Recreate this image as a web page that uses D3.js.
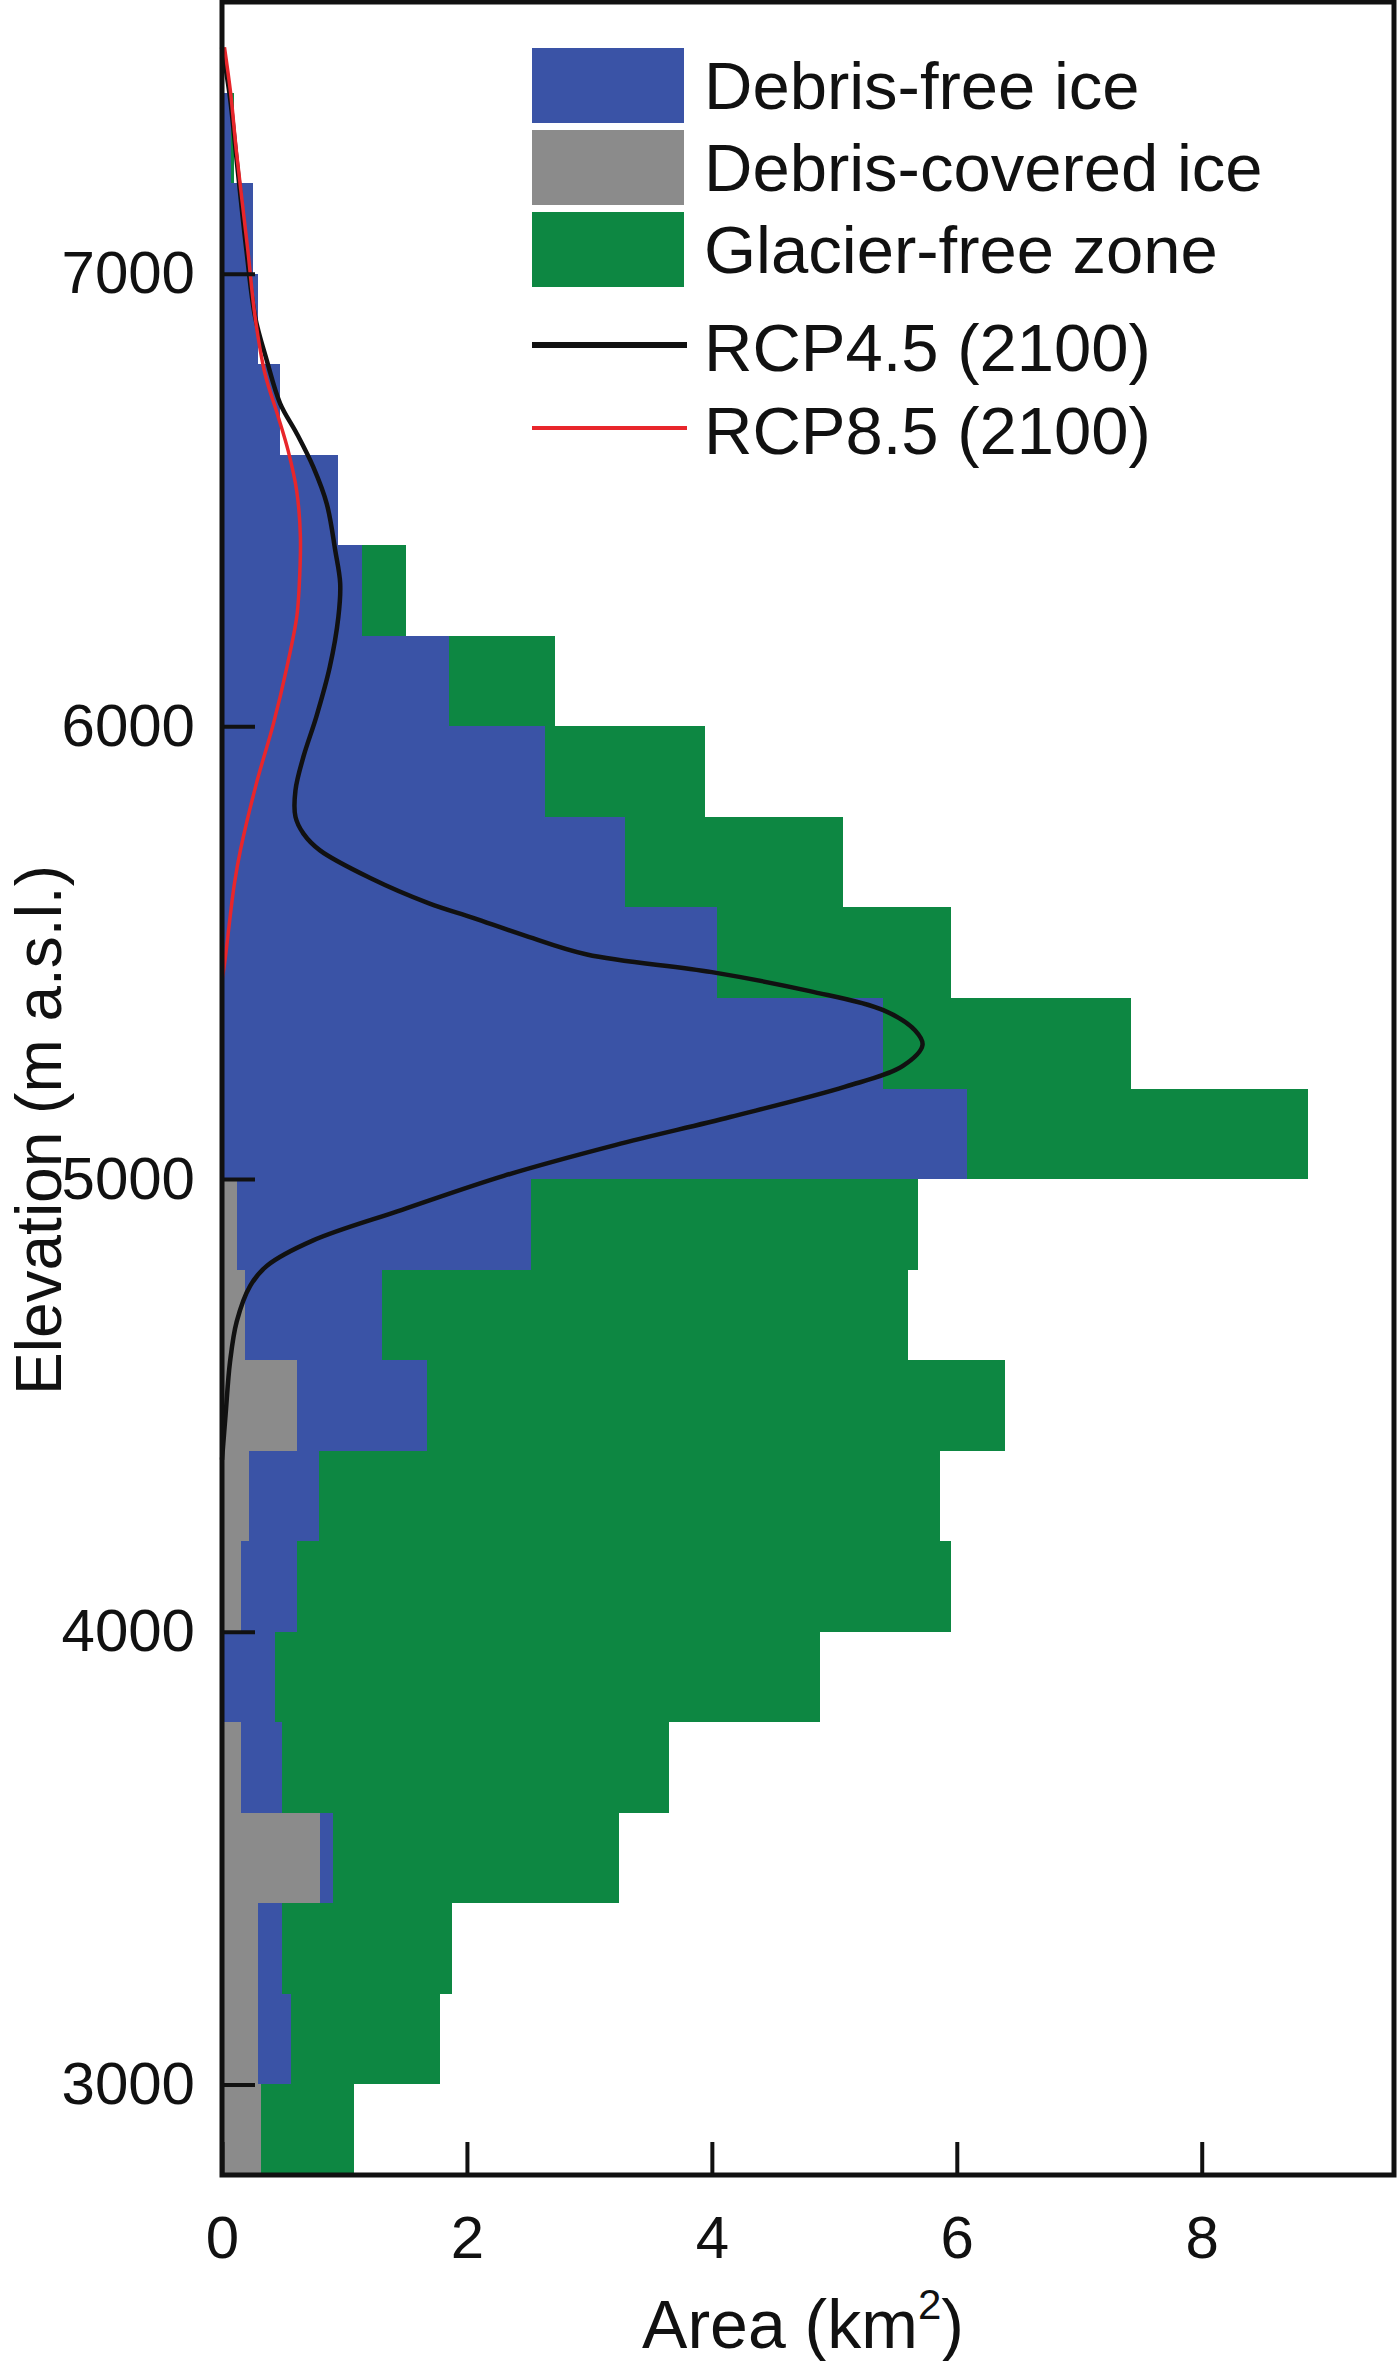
<!DOCTYPE html>
<html>
<head>
<meta charset="utf-8">
<script src="https://cdn.jsdelivr.net/npm/d3@7"></script>
<style>
  body { margin: 0; background: #fff; }
  text { font-family: "Liberation Sans", Arial, sans-serif; fill: #111; }
</style>
</head>
<body>
<div id="chart"></div>
<script>
// Elevation bins (lower edge, m a.s.l.), 200 m wide
let binStart = [2800, 3000, 3200, 3400, 3600, 3800, 4000, 4200, 4400, 4600, 4800, 5000,
                5200, 5400, 5600, 5800, 6000, 6200, 6400, 6600, 6800, 7000, 7200]
let binSize = 200

// Area per bin (km2), stacked left to right: debris-covered, debris-free, glacier-free
let debrisCovered = [0.32, 0.29, 0.29, 0.80, 0.155, 0.02, 0.155, 0.22, 0.61, 0.185, 0.12, 0,
                     0, 0, 0, 0, 0, 0, 0, 0, 0, 0, 0]
let debrisFree = [0, 0.27, 0.20, 0.11, 0.335, 0.41, 0.455, 0.57, 1.06, 1.125, 2.40, 6.08,
                  5.40, 4.04, 3.29, 2.64, 1.85, 1.14, 0.95, 0.475, 0.295, 0.25, 0.07]
let glacierFree = [0.76, 1.22, 1.39, 2.33, 3.16, 4.45, 5.34, 5.07, 4.72, 4.29, 3.16, 2.79,
                   2.02, 1.91, 1.78, 1.30, 0.87, 0.36, 0, 0, 0, 0, 0.03]

// Projected glacier area 2100
let rcp45Elev = [7500, 7400, 7250, 7050, 6905, 6809, 6713, 6647, 6573, 6491, 6388, 6316, 6241,
                 6131, 6021, 5933, 5859, 5800, 5763, 5726, 5665, 5609, 5577, 5540, 5496, 5457,
                 5415, 5373, 5328, 5296, 5250, 5204, 5137, 5075, 5007, 4932, 4864, 4809, 4764,
                 4685, 4595, 4482, 4380]
let rcp45Area = [0, 0.06, 0.12, 0.20, 0.27, 0.365, 0.475, 0.61, 0.745, 0.856, 0.925, 0.965, 0.95,
                 0.88, 0.77, 0.665, 0.60, 0.60, 0.665, 0.80, 1.21, 1.69, 2.05, 2.45, 2.98, 4.0,
                 4.8, 5.40, 5.66, 5.72, 5.56, 5.09, 4.15, 3.21, 2.30, 1.47, 0.74, 0.37, 0.23,
                 0.12, 0.065, 0.03, 0]
let rcp85Elev = [7500, 7400, 7264, 7054, 6905, 6780, 6683, 6609, 6520, 6420, 6308, 6241, 6131,
                 6006, 5873, 5726, 5650, 5576, 5474, 5440]
let rcp85Area = [0.02, 0.07, 0.12, 0.21, 0.27, 0.35, 0.46, 0.54, 0.61, 0.64, 0.63, 0.61, 0.53,
                 0.42, 0.28, 0.15, 0.10, 0.065, 0.02, 0]

let xTicks = [0, 2, 4, 6, 8]
let yTicks = [3000, 4000, 5000, 6000, 7000]
let areaLabels = ['Debris-free ice', 'Debris-covered ice', 'Glacier-free zone']
let lineLabels = ['RCP4.5 (2100)', 'RCP8.5 (2100)']

// Set bounds
let svgWidth = 1400, svgHeight = 2361
let plot = { left: 222, right: 1394, top: 2, bottom: 2175 }

let colors = { debrisCovered: '#8b8b8b', debrisFree: '#3a53a6', glacierFree: '#0d8742' }
let lineColors = ['#111111', '#e8262b']

let svg = d3.select('#chart')
    .append('svg')
    .attr('width', svgWidth)
    .attr('height', svgHeight)
    .style('background', '#fff')

let x = d3.scaleLinear()
    .domain([0, 9.57])
    .range([plot.left, plot.right])

let y = d3.scaleLinear()
    .domain([2800, 7600])
    .range([plot.bottom, plot.top])

// Stacked bars
let rows = binStart.map((b, i) => ({
    elev: b,
    debrisCovered: debrisCovered[i],
    debrisFree: debrisFree[i],
    glacierFree: glacierFree[i]
}))
let stack = d3.stack().keys(['debrisCovered', 'debrisFree', 'glacierFree'])(rows)

svg.append('g')
    .selectAll('g')
    .data(stack)
    .join('g')
    .attr('fill', s => colors[s.key])
    .selectAll('rect')
    .data(s => s)
    .join('rect')
    .attr('x', d => x(d[0]))
    .attr('width', d => Math.max(0, x(d[1]) - x(d[0])))
    .attr('y', d => y(d.data.elev + binSize))
    .attr('height', d => y(d.data.elev) - y(d.data.elev + binSize))
    .attr('shape-rendering', 'crispEdges')

// Projection curves
let line = d3.line()
    .x(d => x(d[1]))
    .y(d => y(d[0]))
    .curve(d3.curveCatmullRom.alpha(0.5))

let curves = [
    { pts: rcp45Elev.map((e, i) => [e, rcp45Area[i]]), color: lineColors[0], w: 4.5 },
    { pts: rcp85Elev.map((e, i) => [e, rcp85Area[i]]), color: lineColors[1], w: 3.5 }
]
svg.append('g')
    .selectAll('path')
    .data(curves)
    .join('path')
    .attr('fill', 'none')
    .attr('stroke', d => d.color)
    .attr('stroke-width', d => d.w)
    .attr('stroke-linejoin', 'round')
    .attr('d', d => line(d.pts))

// Axes with inward ticks
let xAxis = svg.append('g')
    .attr('transform', 'translate(0,' + plot.bottom + ')')
    .call(d3.axisBottom(x).tickValues(xTicks).tickFormat(d3.format('d'))
        .tickSizeInner(-33).tickSizeOuter(0).tickPadding(40))
let yAxis = svg.append('g')
    .attr('transform', 'translate(' + plot.left + ',0)')
    .call(d3.axisLeft(y).tickValues(yTicks).tickFormat(d3.format('d'))
        .tickSizeInner(-33).tickSizeOuter(0).tickPadding(27))

for (let a of [xAxis, yAxis]) {
    a.select('.domain').remove()
    a.selectAll('line').attr('stroke', '#111').attr('stroke-width', 4)
    a.selectAll('text').attr('font-size', 60).attr('fill', '#111')
        .style('font-family', '"Liberation Sans", Arial, sans-serif')
}

// Frame
svg.append('rect')
    .attr('x', plot.left)
    .attr('y', plot.top)
    .attr('width', plot.right - plot.left)
    .attr('height', plot.bottom - plot.top)
    .attr('fill', 'none')
    .attr('stroke', '#111')
    .attr('stroke-width', 5)

// Axis titles
svg.append('text')
    .attr('transform', 'translate(61,1130) rotate(-90)')
    .attr('text-anchor', 'middle')
    .attr('font-size', 64)
    .text('Elevation (m a.s.l.)')

let xt = svg.append('text')
    .attr('x', 803)
    .attr('y', 2348)
    .attr('text-anchor', 'middle')
    .attr('font-size', 68)
xt.append('tspan').text('Area (km')
xt.append('tspan').attr('font-size', 42).attr('dy', -29).text('2')
xt.append('tspan').attr('dy', 29).text(')')

// Legend
let legend = svg.append('g').attr('transform', 'translate(532,48)')
let areaKeys = ['debrisFree', 'debrisCovered', 'glacierFree']
let items = legend.selectAll('g.area')
    .data(areaLabels)
    .join('g')
    .attr('class', 'area')
    .attr('transform', (d, i) => 'translate(0,' + (i * 82) + ')')
items.append('rect')
    .attr('width', 152)
    .attr('height', 75)
    .attr('fill', (d, i) => colors[areaKeys[i]])
items.append('text')
    .attr('x', 172)
    .attr('y', 38)
    .attr('dy', '0.35em')
    .attr('font-size', 67)
    .text(d => d)

let lItems = legend.selectAll('g.ln')
    .data(lineLabels)
    .join('g')
    .attr('class', 'ln')
    .attr('transform', (d, i) => 'translate(0,' + (297 + i * 83) + ')')
lItems.append('line')
    .attr('x1', 0)
    .attr('x2', 155)
    .attr('stroke', (d, i) => lineColors[i])
    .attr('stroke-width', (d, i) => i === 0 ? 6 : 4)
lItems.append('text')
    .attr('x', 172)
    .attr('y', 3)
    .attr('dy', '0.35em')
    .attr('font-size', 67)
    .text(d => d)
</script>
</body>
</html>
